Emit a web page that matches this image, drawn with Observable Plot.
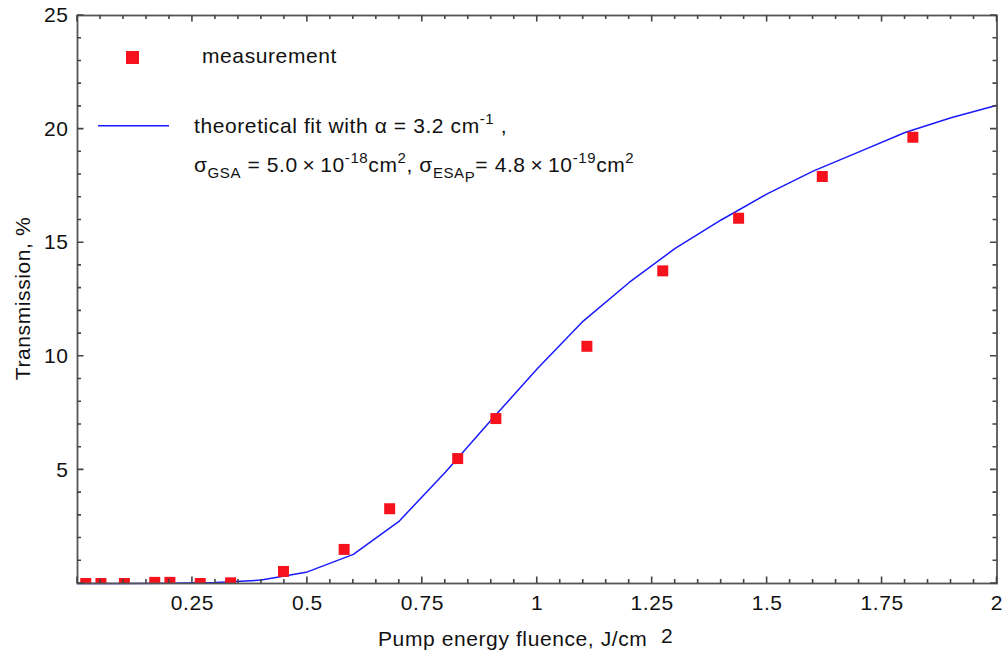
<!DOCTYPE html>
<html>
<head>
<meta charset="utf-8">
<script src="https://cdn.jsdelivr.net/npm/d3@7"></script>
<script src="https://cdn.jsdelivr.net/npm/@observablehq/plot@0.6"></script>
<style>
  html, body { margin: 0; padding: 0; background: #fff; }
</style>
</head>
<body>
<div id="chart"></div>
<script>
// measured points
const measX = [0.018, 0.051, 0.102, 0.168, 0.201, 0.267, 0.333, 0.448, 0.580, 0.679, 0.827, 0.910, 1.108, 1.273, 1.438, 1.620, 1.817];
const measY = [0, 0, 0, 0.05, 0.05, 0, 0.03, 0.53, 1.50, 3.29, 5.50, 7.26, 10.44, 13.76, 16.08, 17.91, 19.64];
// theoretical fit
const fitX = [0, 0.1, 0.2, 0.3, 0.4, 0.5, 0.6, 0.7, 0.8, 0.9, 1.0, 1.1, 1.2, 1.3, 1.4, 1.5, 1.6, 1.7, 1.8, 1.9, 2.0];
const fitY = [0, 0, 0.01, 0.04, 0.15, 0.51, 1.28, 2.75, 4.9, 7.2, 9.45, 11.55, 13.25, 14.75, 16.0, 17.15, 18.15, 19.0, 19.85, 20.5, 21.05];
// ticks
const xMajor = [0, 0.25, 0.5, 0.75, 1, 1.25, 1.5, 1.75, 2];
const xLabels = ["0.25", "0.5", "0.75", "1", "1.25", "1.5", "1.75", "2"];
const xLabelPos = [0.25, 0.5, 0.75, 1, 1.25, 1.5, 1.75, 2];
const xMinor = d3.range(0, 41).map(i => i * 0.05);
const yMajor = [0, 5, 10, 15, 20, 25];
const yLabels = ["5", "10", "15", "20", "25"];
const yLabelPos = [5, 10, 15, 20, 25];
const yMinor = d3.range(0, 26);

const meas = measX.map((x, i) => ({x, y: measY[i]}));
const fit = fitX.map((x, i) => ({x, y: fitY[i]}));

const W = 1007, H = 656, ML = 77, MR = 10.5, MT = 15, MB = 73;
const axisColor = "#555";
const tickColor = "#444";
const red = "#f5121c";
const blue = "#1a1aff";
const minorLen = 4, majorLen = 6.5;

const svg = Plot.plot({
  width: W,
  height: H,
  marginLeft: ML,
  marginRight: MR,
  marginTop: MT,
  marginBottom: MB,
  style: "font-family: 'Liberation Sans', Arial, sans-serif; font-size: 21px; letter-spacing: 0.6px; background: #fff;",
  x: {domain: [0, 2]},
  y: {domain: [0, 25]},
  marks: [
    Plot.line(fit, {x: "x", y: "y", stroke: blue, strokeWidth: 1.5}),
    Plot.dot(meas, {x: "x", y: "y", symbol: "square", r: 6.2, fill: red, stroke: "none", clip: true}),
    Plot.axisX({anchor: "bottom", ticks: xLabelPos, tickSize: 0, tickPadding: 12, label: null,
      tickFormat: d => xLabels[xLabelPos.indexOf(d)], fill: "#111"}),
    Plot.axisY({anchor: "left", ticks: yLabelPos, tickSize: 0, tickPadding: 9, label: null,
      tickFormat: d => yLabels[yLabelPos.indexOf(d)], fill: "#111"}),
    Plot.frame({stroke: axisColor, strokeWidth: 1.8})
  ]
});

// inward ticks drawn through Plot's own scales
const sx = svg.scale("x"), sy = svg.scale("y");
const X = v => sx.apply(v), Y = v => sy.apply(v);
const x0 = X(0), x1 = X(2), y0 = Y(0), y1 = Y(25);
const tickPath = [];
for (const v of xMinor) { const px = X(v); tickPath.push(`M${px},${y0}v${-minorLen}`, `M${px},${y1}v${minorLen}`); }
for (const v of xMajor) { const px = X(v); tickPath.push(`M${px},${y0}v${-majorLen}`, `M${px},${y1}v${majorLen}`); }
for (const v of yMinor) { const py = Y(v); tickPath.push(`M${x0},${py}h${minorLen}`, `M${x1},${py}h${-minorLen}`); }
for (const v of yMajor) { const py = Y(v); tickPath.push(`M${x0},${py}h${majorLen}`, `M${x1},${py}h${-majorLen}`); }

const s = d3.select(svg);
s.append("path").attr("d", tickPath.join("")).attr("fill", "none")
  .attr("stroke", tickColor).attr("stroke-width", 1.6);

const g = s.append("g").attr("fill", "#111").attr("text-anchor", "start");

// axis titles
const xt = g.append("text").attr("x", 378).attr("y", 646);
xt.append("tspan").text("Pump energy fluence, J/cm");
xt.append("tspan").attr("x", 661).attr("dy", -3).text("2");

g.append("text")
  .attr("transform", "translate(30,298.5) rotate(-90)")
  .attr("text-anchor", "middle")
  .text("Transmission, %");

// legend
g.append("rect").attr("x", 126).attr("y", 51).attr("width", 13).attr("height", 13).attr("fill", red);
g.append("text").attr("x", 202).attr("y", 63).text("measurement");

g.append("line").attr("x1", 98).attr("x2", 169).attr("y1", 125.7).attr("y2", 125.7)
  .attr("stroke", blue).attr("stroke-width", 1.5);

const small = 15;
const t1 = g.append("text").attr("x", 194).attr("y", 133);
t1.append("tspan").text("theoretical fit with α = 3.2 cm");
t1.append("tspan").attr("dy", -9).attr("font-size", small).text("-1");
t1.append("tspan").attr("dy", 9).text(" ,");

const t2 = g.append("text").attr("x", 194).attr("y", 172);
t2.append("tspan").text("σ");
t2.append("tspan").attr("dy", 6).attr("font-size", small).text("GSA");
t2.append("tspan").attr("dy", -6).text(" = 5.0\u2009×\u200910");
t2.append("tspan").attr("dy", -9).attr("font-size", small).text("-18");
t2.append("tspan").attr("dy", 9).text("cm");
t2.append("tspan").attr("dy", -9).attr("font-size", small).text("2");
t2.append("tspan").attr("dy", 9).text(", σ");
t2.append("tspan").attr("dy", 6).attr("font-size", small).text("ESA");
t2.append("tspan").attr("dy", 4).attr("font-size", small).text("P");
t2.append("tspan").attr("dy", -10).text("= 4.8\u2009×\u200910");
t2.append("tspan").attr("dy", -9).attr("font-size", small).text("-19");
t2.append("tspan").attr("dy", 9).text("cm");
t2.append("tspan").attr("dy", -9).attr("font-size", small).text("2");

document.getElementById("chart").appendChild(svg);
</script>
</body>
</html>
